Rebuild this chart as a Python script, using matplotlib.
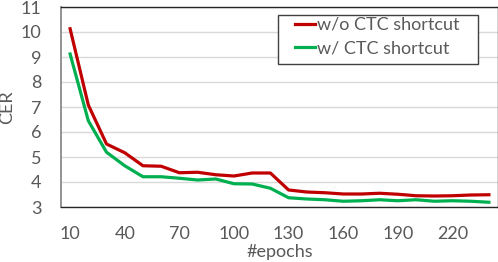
import numpy as np
import matplotlib
matplotlib.use('Agg')
from matplotlib import pyplot as plt
from matplotlib.patches import Rectangle

plt.rcParams['font.family'] = ['Lato', 'DejaVu Sans']

epochs = list(range(10, 250, 10))
tick_epochs = [10, 40, 70, 100, 130, 160, 190, 220]

cer_wo = [10.13, 7.08, 5.52, 5.17, 4.65, 4.63, 4.37, 4.39, 4.29, 4.24, 4.36, 4.36,
          3.68, 3.60, 3.57, 3.52, 3.52, 3.55, 3.51, 3.45, 3.44, 3.45, 3.48, 3.49]
cer_w = [9.12, 6.45, 5.19, 4.65, 4.21, 4.21, 4.15, 4.08, 4.12, 3.93, 3.92, 3.75,
         3.37, 3.32, 3.29, 3.23, 3.25, 3.29, 3.25, 3.29, 3.23, 3.25, 3.23, 3.19]

txt = '#595959'

fig = plt.figure(figsize=(4.98, 2.62), dpi=100)
ax = fig.add_axes([61 / 498, 1 - 207 / 262, 437 / 498, 200 / 262])

ax.plot(epochs, cer_wo, color='#C00000', lw=2.3, label='w/o CTC shortcut', solid_joinstyle='round')
ax.plot(epochs, cer_w, color='#00B050', lw=2.3, label='w/ CTC shortcut', solid_joinstyle='round')

ax.set_xlim(5, 245)
ax.set_ylim(3, 11)
ax.set_xticks(tick_epochs)
ax.set_yticks(range(3, 12))
ax.grid(axis='y', color='#D9D9D9', lw=1)
ax.set_axisbelow(True)
ax.tick_params(length=0, labelsize=13, colors=txt)
ax.tick_params(axis='x', pad=14)
ax.tick_params(axis='y', pad=14)

for s in ['top', 'right', 'bottom']:
    ax.spines[s].set_color('#262626')
    ax.spines[s].set_linewidth(1)
ax.spines['left'].set_color('#808080')
ax.spines['left'].set_linewidth(1.2)

ax.set_xlabel('#epochs', fontsize=13, color=txt, labelpad=1)
ax.set_ylabel('CER', fontsize=13, color=txt, labelpad=4)

# legend box drawn separately so padding matches
ax.add_patch(Rectangle(((278 - 61) / 437, (207 - 64) / 200), 200 / 437, 49 / 200,
                       transform=ax.transAxes, facecolor='white', edgecolor='#404040',
                       lw=1, zorder=4))
leg = ax.legend(loc='upper left', bbox_to_anchor=((295 - 61) / 437, (207 - 17) / 200),
                fontsize=13, frameon=False, borderpad=0, borderaxespad=0,
                handlelength=1.1, handletextpad=0.12, labelspacing=0.4,
                labelcolor=txt)
leg.set_zorder(5)

fig.savefig('out.png', dpi=100)
